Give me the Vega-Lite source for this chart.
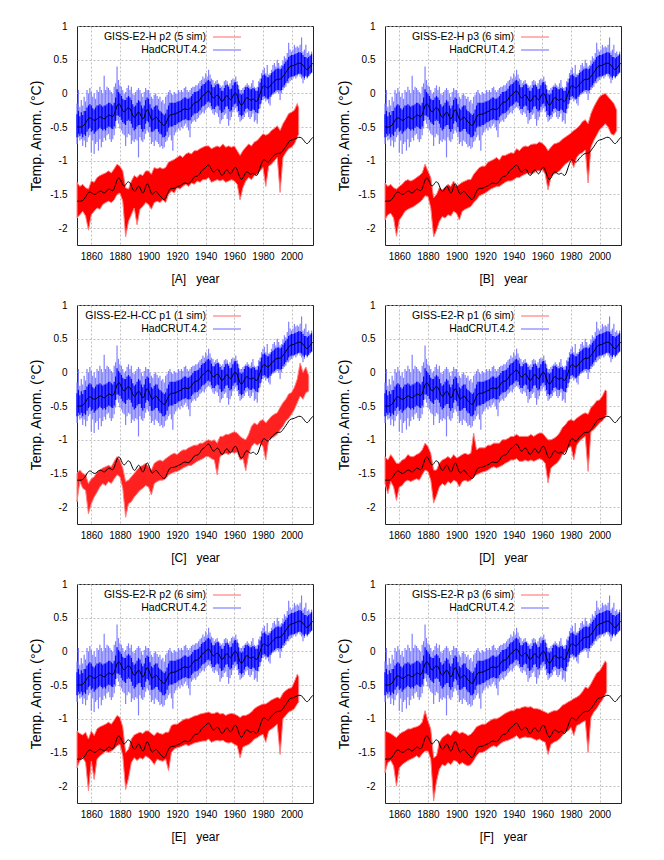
{
"$schema":"https://vega.github.io/schema/vega-lite/v6.json",
"background":"white",
"padding":{"left":29,"top":20,"right":5,"bottom":5},
"columns":2,
"spacing":{"row":60,"column":72},
"bounds":"flush",
"resolve":{"scale":{"stroke":"independent"},"legend":{"stroke":"independent"}},
"config":{
 "view":{"stroke":"#222","strokeWidth":1},
 "font":"Liberation Sans",
 "axis":{"grid":true,"gridColor":"#b0b0b0","gridDash":[2,2],"gridWidth":0.8,"domain":false,"ticks":false,"labelFont":"Liberation Sans","labelFontSize":10,"labelColor":"#000","labelOverlap":false,"labelFlush":false,"titleFont":"Liberation Sans","titleFontWeight":"normal","titleColor":"#000"},
 "axisY":{"titleFontSize":14,"titlePadding":6,"labelPadding":10},
 "axisX":{"titleFontSize":12,"titlePadding":12,"labelPadding":6},
 "legend":{"orient":"none","legendX":144,"legendY":5,"symbolType":"M-2.8,0H2.8","symbolSize":100,"symbolStrokeWidth":1.2,"labelAlign":"right","labelOffset":-27,"labelFontSize":10.5,"labelFont":"Liberation Sans","labelColor":"#000","rowPadding":1,"padding":0}
},
"datasets":{
"sm":[{"t":1850,"a":-0.50,"b":-1.60},{"t":1851,"a":-0.50,"b":-1.60},{"t":1852,"a":-0.50,"b":-1.60},{"t":1853,"a":-0.50,"b":-1.60},{"t":1854,"a":-0.49,"b":-1.59},{"t":1855,"a":-0.47,"b":-1.57},{"t":1856,"a":-0.44,"b":-1.54},{"t":1857,"a":-0.40,"b":-1.50},{"t":1858,"a":-0.37,"b":-1.47},{"t":1859,"a":-0.36,"b":-1.46},{"t":1860,"a":-0.37,"b":-1.47},{"t":1861,"a":-0.39,"b":-1.49},{"t":1862,"a":-0.40,"b":-1.50},{"t":1863,"a":-0.40,"b":-1.50},{"t":1864,"a":-0.38,"b":-1.48},{"t":1865,"a":-0.36,"b":-1.46},{"t":1866,"a":-0.35,"b":-1.45},{"t":1867,"a":-0.35,"b":-1.45},{"t":1868,"a":-0.37,"b":-1.47},{"t":1869,"a":-0.38,"b":-1.48},{"t":1870,"a":-0.37,"b":-1.47},{"t":1871,"a":-0.34,"b":-1.44},{"t":1872,"a":-0.32,"b":-1.42},{"t":1873,"a":-0.32,"b":-1.42},{"t":1874,"a":-0.34,"b":-1.44},{"t":1875,"a":-0.35,"b":-1.45},{"t":1876,"a":-0.32,"b":-1.42},{"t":1877,"a":-0.25,"b":-1.35},{"t":1878,"a":-0.18,"b":-1.28},{"t":1879,"a":-0.15,"b":-1.25},{"t":1880,"a":-0.16,"b":-1.26},{"t":1881,"a":-0.21,"b":-1.31},{"t":1882,"a":-0.26,"b":-1.36},{"t":1883,"a":-0.28,"b":-1.38},{"t":1884,"a":-0.26,"b":-1.36},{"t":1885,"a":-0.22,"b":-1.32},{"t":1886,"a":-0.21,"b":-1.31},{"t":1887,"a":-0.22,"b":-1.32},{"t":1888,"a":-0.27,"b":-1.37},{"t":1889,"a":-0.33,"b":-1.43},{"t":1890,"a":-0.36,"b":-1.46},{"t":1891,"a":-0.35,"b":-1.45},{"t":1892,"a":-0.30,"b":-1.40},{"t":1893,"a":-0.27,"b":-1.37},{"t":1894,"a":-0.29,"b":-1.39},{"t":1895,"a":-0.35,"b":-1.45},{"t":1896,"a":-0.39,"b":-1.49},{"t":1897,"a":-0.36,"b":-1.46},{"t":1898,"a":-0.28,"b":-1.38},{"t":1899,"a":-0.23,"b":-1.33},{"t":1900,"a":-0.26,"b":-1.36},{"t":1901,"a":-0.33,"b":-1.43},{"t":1902,"a":-0.39,"b":-1.49},{"t":1903,"a":-0.40,"b":-1.50},{"t":1904,"a":-0.37,"b":-1.47},{"t":1905,"a":-0.35,"b":-1.45},{"t":1906,"a":-0.36,"b":-1.46},{"t":1907,"a":-0.40,"b":-1.50},{"t":1908,"a":-0.42,"b":-1.52},{"t":1909,"a":-0.44,"b":-1.54},{"t":1910,"a":-0.47,"b":-1.57},{"t":1911,"a":-0.48,"b":-1.58},{"t":1912,"a":-0.46,"b":-1.56},{"t":1913,"a":-0.40,"b":-1.50},{"t":1914,"a":-0.35,"b":-1.45},{"t":1915,"a":-0.32,"b":-1.42},{"t":1916,"a":-0.31,"b":-1.41},{"t":1917,"a":-0.31,"b":-1.41},{"t":1918,"a":-0.31,"b":-1.41},{"t":1919,"a":-0.30,"b":-1.40},{"t":1920,"a":-0.29,"b":-1.39},{"t":1921,"a":-0.28,"b":-1.38},{"t":1922,"a":-0.27,"b":-1.37},{"t":1923,"a":-0.26,"b":-1.36},{"t":1924,"a":-0.24,"b":-1.34},{"t":1925,"a":-0.23,"b":-1.33},{"t":1926,"a":-0.23,"b":-1.33},{"t":1927,"a":-0.24,"b":-1.34},{"t":1928,"a":-0.24,"b":-1.34},{"t":1929,"a":-0.23,"b":-1.33},{"t":1930,"a":-0.20,"b":-1.30},{"t":1931,"a":-0.17,"b":-1.27},{"t":1932,"a":-0.14,"b":-1.24},{"t":1933,"a":-0.13,"b":-1.23},{"t":1934,"a":-0.13,"b":-1.23},{"t":1935,"a":-0.12,"b":-1.22},{"t":1936,"a":-0.09,"b":-1.19},{"t":1937,"a":-0.05,"b":-1.15},{"t":1938,"a":-0.03,"b":-1.13},{"t":1939,"a":-0.02,"b":-1.12},{"t":1940,"a":0.00,"b":-1.10},{"t":1941,"a":0.03,"b":-1.07},{"t":1942,"a":0.04,"b":-1.06},{"t":1943,"a":0.02,"b":-1.08},{"t":1944,"a":-0.03,"b":-1.13},{"t":1945,"a":-0.07,"b":-1.17},{"t":1946,"a":-0.07,"b":-1.17},{"t":1947,"a":-0.04,"b":-1.14},{"t":1948,"a":-0.02,"b":-1.12},{"t":1949,"a":-0.03,"b":-1.13},{"t":1950,"a":-0.08,"b":-1.18},{"t":1951,"a":-0.12,"b":-1.22},{"t":1952,"a":-0.12,"b":-1.22},{"t":1953,"a":-0.08,"b":-1.18},{"t":1954,"a":-0.04,"b":-1.14},{"t":1955,"a":-0.03,"b":-1.13},{"t":1956,"a":-0.06,"b":-1.16},{"t":1957,"a":-0.10,"b":-1.20},{"t":1958,"a":-0.09,"b":-1.19},{"t":1959,"a":-0.04,"b":-1.14},{"t":1960,"a":0.00,"b":-1.10},{"t":1961,"a":0.01,"b":-1.09},{"t":1962,"a":-0.03,"b":-1.13},{"t":1963,"a":-0.10,"b":-1.20},{"t":1964,"a":-0.16,"b":-1.26},{"t":1965,"a":-0.18,"b":-1.28},{"t":1966,"a":-0.16,"b":-1.26},{"t":1967,"a":-0.11,"b":-1.21},{"t":1968,"a":-0.07,"b":-1.17},{"t":1969,"a":-0.06,"b":-1.16},{"t":1970,"a":-0.08,"b":-1.18},{"t":1971,"a":-0.10,"b":-1.20},{"t":1972,"a":-0.10,"b":-1.20},{"t":1973,"a":-0.08,"b":-1.18},{"t":1974,"a":-0.09,"b":-1.19},{"t":1975,"a":-0.12,"b":-1.22},{"t":1976,"a":-0.12,"b":-1.22},{"t":1977,"a":-0.07,"b":-1.17},{"t":1978,"a":0.00,"b":-1.10},{"t":1979,"a":0.06,"b":-1.04},{"t":1980,"a":0.11,"b":-0.99},{"t":1981,"a":0.12,"b":-0.98},{"t":1982,"a":0.10,"b":-1.00},{"t":1983,"a":0.08,"b":-1.02},{"t":1984,"a":0.08,"b":-1.02},{"t":1985,"a":0.11,"b":-0.99},{"t":1986,"a":0.14,"b":-0.96},{"t":1987,"a":0.16,"b":-0.94},{"t":1988,"a":0.18,"b":-0.92},{"t":1989,"a":0.20,"b":-0.90},{"t":1990,"a":0.21,"b":-0.89},{"t":1991,"a":0.21,"b":-0.89},{"t":1992,"a":0.21,"b":-0.89},{"t":1993,"a":0.22,"b":-0.88},{"t":1994,"a":0.25,"b":-0.85},{"t":1995,"a":0.28,"b":-0.82},{"t":1996,"a":0.31,"b":-0.79},{"t":1997,"a":0.34,"b":-0.76},{"t":1998,"a":0.38,"b":-0.72},{"t":1999,"a":0.40,"b":-0.70},{"t":2000,"a":0.41,"b":-0.69},{"t":2001,"a":0.41,"b":-0.69},{"t":2002,"a":0.42,"b":-0.68},{"t":2003,"a":0.43,"b":-0.67},{"t":2004,"a":0.44,"b":-0.66},{"t":2005,"a":0.45,"b":-0.65},{"t":2006,"a":0.45,"b":-0.65},{"t":2007,"a":0.44,"b":-0.66},{"t":2008,"a":0.42,"b":-0.68},{"t":2009,"a":0.39,"b":-0.71},{"t":2010,"a":0.36,"b":-0.74},{"t":2011,"a":0.35,"b":-0.75},{"t":2012,"a":0.37,"b":-0.73},{"t":2013,"a":0.40,"b":-0.70},{"t":2014,"a":0.43,"b":-0.67},{"t":2015,"a":0.45,"b":-0.65}],
"had":[{"t":1850,"l":-0.75,"cl":-0.65,"ch":-0.31,"h":-0.15},{"t":1851,"l":-0.65,"cl":-0.60,"ch":-0.26,"h":0.05},{"t":1852,"l":-0.70,"cl":-0.63,"ch":-0.34,"h":-0.20},{"t":1853,"l":-0.68,"cl":-0.60,"ch":-0.28,"h":-0.10},{"t":1854,"l":-0.78,"cl":-0.65,"ch":-0.32,"h":-0.18},{"t":1855,"l":-0.70,"cl":-0.61,"ch":-0.26,"h":-0.05},{"t":1856,"l":-0.80,"cl":-0.63,"ch":-0.26,"h":-0.12},{"t":1857,"l":-0.72,"cl":-0.57,"ch":-0.21,"h":0.05},{"t":1858,"l":-0.65,"cl":-0.53,"ch":-0.18,"h":0.00},{"t":1859,"l":-0.62,"cl":-0.51,"ch":-0.16,"h":0.08},{"t":1860,"l":-0.88,"cl":-0.57,"ch":-0.18,"h":0.02},{"t":1861,"l":-0.70,"cl":-0.55,"ch":-0.22,"h":-0.05},{"t":1862,"l":-0.90,"cl":-0.60,"ch":-0.24,"h":0.00},{"t":1863,"l":-0.75,"cl":-0.57,"ch":-0.21,"h":-0.08},{"t":1864,"l":-0.72,"cl":-0.55,"ch":-0.18,"h":0.05},{"t":1865,"l":-0.85,"cl":-0.53,"ch":-0.18,"h":0.02},{"t":1866,"l":-0.68,"cl":-0.51,"ch":-0.16,"h":0.10},{"t":1867,"l":-0.80,"cl":-0.53,"ch":-0.18,"h":0.05},{"t":1868,"l":-0.72,"cl":-0.55,"ch":-0.20,"h":0.00},{"t":1869,"l":-0.66,"cl":-0.53,"ch":-0.18,"h":0.26},{"t":1870,"l":-0.70,"cl":-0.55,"ch":-0.18,"h":0.05},{"t":1871,"l":-0.62,"cl":-0.51,"ch":-0.16,"h":0.10},{"t":1872,"l":-0.60,"cl":-0.49,"ch":-0.14,"h":0.08},{"t":1873,"l":-0.68,"cl":-0.50,"ch":-0.14,"h":0.05},{"t":1874,"l":-0.72,"cl":-0.52,"ch":-0.16,"h":0.02},{"t":1875,"l":-0.68,"cl":-0.53,"ch":-0.18,"h":0.00},{"t":1876,"l":-0.62,"cl":-0.49,"ch":-0.14,"h":0.10},{"t":1877,"l":-0.52,"cl":-0.41,"ch":-0.06,"h":0.15},{"t":1878,"l":-0.40,"cl":-0.33,"ch":0.06,"h":0.40},{"t":1879,"l":-0.45,"cl":-0.33,"ch":0.02,"h":0.20},{"t":1880,"l":-0.52,"cl":-0.35,"ch":0.00,"h":0.12},{"t":1881,"l":-0.55,"cl":-0.39,"ch":-0.04,"h":0.10},{"t":1882,"l":-0.60,"cl":-0.43,"ch":-0.08,"h":0.05},{"t":1883,"l":-0.62,"cl":-0.45,"ch":-0.10,"h":0.00},{"t":1884,"l":-0.78,"cl":-0.47,"ch":-0.10,"h":0.02},{"t":1885,"l":-0.65,"cl":-0.41,"ch":-0.06,"h":0.08},{"t":1886,"l":-0.60,"cl":-0.39,"ch":-0.04,"h":0.12},{"t":1887,"l":-0.62,"cl":-0.41,"ch":-0.06,"h":0.05},{"t":1888,"l":-0.75,"cl":-0.45,"ch":-0.10,"h":0.10},{"t":1889,"l":-0.70,"cl":-0.51,"ch":-0.16,"h":0.00},{"t":1890,"l":-0.72,"cl":-0.55,"ch":-0.20,"h":-0.02},{"t":1891,"l":-0.68,"cl":-0.53,"ch":-0.18,"h":0.02},{"t":1892,"l":-0.70,"cl":-0.49,"ch":-0.14,"h":0.05},{"t":1893,"l":-0.95,"cl":-0.47,"ch":-0.10,"h":0.08},{"t":1894,"l":-0.65,"cl":-0.47,"ch":-0.12,"h":0.05},{"t":1895,"l":-0.70,"cl":-0.53,"ch":-0.18,"h":0.00},{"t":1896,"l":-0.72,"cl":-0.57,"ch":-0.22,"h":-0.05},{"t":1897,"l":-0.68,"cl":-0.53,"ch":-0.18,"h":0.02},{"t":1898,"l":-0.60,"cl":-0.45,"ch":-0.10,"h":0.08},{"t":1899,"l":-0.55,"cl":-0.41,"ch":-0.06,"h":0.05},{"t":1900,"l":-0.58,"cl":-0.43,"ch":-0.08,"h":0.05},{"t":1901,"l":-0.65,"cl":-0.50,"ch":-0.16,"h":0.00},{"t":1902,"l":-0.75,"cl":-0.57,"ch":-0.22,"h":-0.05},{"t":1903,"l":-0.72,"cl":-0.57,"ch":-0.24,"h":-0.08},{"t":1904,"l":-0.78,"cl":-0.55,"ch":-0.20,"h":-0.02},{"t":1905,"l":-0.70,"cl":-0.53,"ch":-0.18,"h":0.00},{"t":1906,"l":-0.72,"cl":-0.53,"ch":-0.18,"h":-0.04},{"t":1907,"l":-0.75,"cl":-0.57,"ch":-0.24,"h":-0.08},{"t":1908,"l":-0.80,"cl":-0.60,"ch":-0.26,"h":-0.05},{"t":1909,"l":-0.78,"cl":-0.61,"ch":-0.28,"h":-0.12},{"t":1910,"l":-0.82,"cl":-0.65,"ch":-0.30,"h":-0.10},{"t":1911,"l":-0.80,"cl":-0.65,"ch":-0.32,"h":-0.15},{"t":1912,"l":-0.72,"cl":-0.63,"ch":-0.30,"h":-0.05},{"t":1913,"l":-0.70,"cl":-0.57,"ch":-0.24,"h":-0.02},{"t":1914,"l":-0.65,"cl":-0.51,"ch":-0.18,"h":0.02},{"t":1915,"l":-0.62,"cl":-0.49,"ch":-0.14,"h":0.05},{"t":1916,"l":-0.70,"cl":-0.49,"ch":-0.14,"h":0.00},{"t":1917,"l":-0.85,"cl":-0.49,"ch":-0.14,"h":-0.02},{"t":1918,"l":-0.62,"cl":-0.47,"ch":-0.14,"h":0.02},{"t":1919,"l":-0.58,"cl":-0.47,"ch":-0.14,"h":0.00},{"t":1920,"l":-0.55,"cl":-0.45,"ch":-0.12,"h":0.00},{"t":1921,"l":-0.52,"cl":-0.43,"ch":-0.12,"h":0.05},{"t":1922,"l":-0.55,"cl":-0.43,"ch":-0.11,"h":0.02},{"t":1923,"l":-0.50,"cl":-0.41,"ch":-0.10,"h":0.05},{"t":1924,"l":-0.52,"cl":-0.40,"ch":-0.08,"h":0.02},{"t":1925,"l":-0.48,"cl":-0.39,"ch":-0.06,"h":0.08},{"t":1926,"l":-0.45,"cl":-0.38,"ch":-0.06,"h":0.10},{"t":1927,"l":-0.50,"cl":-0.40,"ch":-0.08,"h":0.05},{"t":1928,"l":-0.55,"cl":-0.40,"ch":-0.08,"h":0.02},{"t":1929,"l":-0.65,"cl":-0.40,"ch":-0.06,"h":0.05},{"t":1930,"l":-0.45,"cl":-0.35,"ch":-0.04,"h":0.08},{"t":1931,"l":-0.42,"cl":-0.33,"ch":-0.01,"h":0.10},{"t":1932,"l":-0.40,"cl":-0.30,"ch":0.02,"h":0.10},{"t":1933,"l":-0.42,"cl":-0.30,"ch":0.02,"h":0.12},{"t":1934,"l":-0.38,"cl":-0.29,"ch":0.03,"h":0.12},{"t":1935,"l":-0.36,"cl":-0.27,"ch":0.04,"h":0.15},{"t":1936,"l":-0.32,"cl":-0.25,"ch":0.07,"h":0.18},{"t":1937,"l":-0.30,"cl":-0.21,"ch":0.11,"h":0.20},{"t":1938,"l":-0.28,"cl":-0.19,"ch":0.13,"h":0.25},{"t":1939,"l":-0.30,"cl":-0.18,"ch":0.14,"h":0.22},{"t":1940,"l":-0.25,"cl":-0.16,"ch":0.16,"h":0.30},{"t":1941,"l":-0.22,"cl":-0.13,"ch":0.19,"h":0.25},{"t":1942,"l":-0.20,"cl":-0.12,"ch":0.20,"h":0.35},{"t":1943,"l":-0.22,"cl":-0.14,"ch":0.18,"h":0.28},{"t":1944,"l":-0.25,"cl":-0.19,"ch":0.13,"h":0.22},{"t":1945,"l":-0.30,"cl":-0.23,"ch":0.09,"h":0.20},{"t":1946,"l":-0.32,"cl":-0.23,"ch":0.09,"h":0.15},{"t":1947,"l":-0.28,"cl":-0.20,"ch":0.12,"h":0.18},{"t":1948,"l":-0.30,"cl":-0.18,"ch":0.14,"h":0.20},{"t":1949,"l":-0.35,"cl":-0.19,"ch":0.13,"h":0.15},{"t":1950,"l":-0.45,"cl":-0.25,"ch":0.08,"h":0.12},{"t":1951,"l":-0.40,"cl":-0.29,"ch":0.04,"h":0.10},{"t":1952,"l":-0.38,"cl":-0.28,"ch":0.04,"h":0.12},{"t":1953,"l":-0.32,"cl":-0.24,"ch":0.08,"h":0.18},{"t":1954,"l":-0.30,"cl":-0.20,"ch":0.12,"h":0.20},{"t":1955,"l":-0.38,"cl":-0.19,"ch":0.13,"h":0.18},{"t":1956,"l":-0.48,"cl":-0.23,"ch":0.10,"h":0.12},{"t":1957,"l":-0.40,"cl":-0.27,"ch":0.06,"h":0.15},{"t":1958,"l":-0.35,"cl":-0.25,"ch":0.07,"h":0.20},{"t":1959,"l":-0.28,"cl":-0.20,"ch":0.12,"h":0.22},{"t":1960,"l":-0.25,"cl":-0.16,"ch":0.16,"h":0.20},{"t":1961,"l":-0.22,"cl":-0.15,"ch":0.17,"h":0.25},{"t":1962,"l":-0.28,"cl":-0.19,"ch":0.13,"h":0.18},{"t":1963,"l":-0.35,"cl":-0.26,"ch":0.06,"h":0.12},{"t":1964,"l":-0.42,"cl":-0.32,"ch":0.00,"h":0.05},{"t":1965,"l":-0.40,"cl":-0.34,"ch":-0.02,"h":0.05},{"t":1966,"l":-0.38,"cl":-0.32,"ch":0.00,"h":0.08},{"t":1967,"l":-0.35,"cl":-0.27,"ch":0.05,"h":0.10},{"t":1968,"l":-0.30,"cl":-0.23,"ch":0.09,"h":0.12},{"t":1969,"l":-0.28,"cl":-0.22,"ch":0.10,"h":0.15},{"t":1970,"l":-0.35,"cl":-0.24,"ch":0.08,"h":0.12},{"t":1971,"l":-0.38,"cl":-0.26,"ch":0.06,"h":0.10},{"t":1972,"l":-0.35,"cl":-0.26,"ch":0.06,"h":0.15},{"t":1973,"l":-0.30,"cl":-0.24,"ch":0.08,"h":0.20},{"t":1974,"l":-0.42,"cl":-0.25,"ch":0.07,"h":0.10},{"t":1975,"l":-0.40,"cl":-0.28,"ch":0.04,"h":0.08},{"t":1976,"l":-0.45,"cl":-0.29,"ch":0.04,"h":0.10},{"t":1977,"l":-0.30,"cl":-0.23,"ch":0.09,"h":0.18},{"t":1978,"l":-0.22,"cl":-0.16,"ch":0.16,"h":0.22},{"t":1979,"l":-0.15,"cl":-0.10,"ch":0.22,"h":0.30},{"t":1980,"l":-0.10,"cl":-0.05,"ch":0.27,"h":0.35},{"t":1981,"l":-0.08,"cl":-0.04,"ch":0.28,"h":0.38},{"t":1982,"l":-0.12,"cl":-0.06,"ch":0.26,"h":0.30},{"t":1983,"l":-0.10,"cl":-0.08,"ch":0.24,"h":0.42},{"t":1984,"l":-0.15,"cl":-0.08,"ch":0.24,"h":0.28},{"t":1985,"l":-0.18,"cl":-0.05,"ch":0.27,"h":0.30},{"t":1986,"l":-0.05,"cl":-0.02,"ch":0.30,"h":0.35},{"t":1987,"l":-0.02,"cl":0.00,"ch":0.32,"h":0.42},{"t":1988,"l":0.00,"cl":0.02,"ch":0.34,"h":0.45},{"t":1989,"l":0.00,"cl":0.04,"ch":0.36,"h":0.40},{"t":1990,"l":0.02,"cl":0.05,"ch":0.37,"h":0.50},{"t":1991,"l":0.00,"cl":0.05,"ch":0.37,"h":0.45},{"t":1992,"l":-0.10,"cl":0.04,"ch":0.36,"h":0.40},{"t":1993,"l":0.00,"cl":0.05,"ch":0.37,"h":0.42},{"t":1994,"l":0.05,"cl":0.09,"ch":0.41,"h":0.48},{"t":1995,"l":0.08,"cl":0.12,"ch":0.44,"h":0.55},{"t":1996,"l":0.10,"cl":0.15,"ch":0.47,"h":0.52},{"t":1997,"l":0.15,"cl":0.18,"ch":0.50,"h":0.60},{"t":1998,"l":0.15,"cl":0.22,"ch":0.54,"h":0.75},{"t":1999,"l":0.18,"cl":0.24,"ch":0.56,"h":0.65},{"t":2000,"l":0.20,"cl":0.25,"ch":0.57,"h":0.62},{"t":2001,"l":0.22,"cl":0.25,"ch":0.57,"h":0.65},{"t":2002,"l":0.25,"cl":0.26,"ch":0.58,"h":0.72},{"t":2003,"l":0.22,"cl":0.27,"ch":0.59,"h":0.68},{"t":2004,"l":0.25,"cl":0.28,"ch":0.60,"h":0.70},{"t":2005,"l":0.28,"cl":0.29,"ch":0.61,"h":0.68},{"t":2006,"l":0.25,"cl":0.29,"ch":0.61,"h":0.72},{"t":2007,"l":0.22,"cl":0.28,"ch":0.60,"h":0.83},{"t":2008,"l":0.15,"cl":0.25,"ch":0.57,"h":0.62},{"t":2009,"l":0.20,"cl":0.23,"ch":0.54,"h":0.65},{"t":2010,"l":0.25,"cl":0.26,"ch":0.54,"h":0.72},{"t":2011,"l":0.22,"cl":0.24,"ch":0.52,"h":0.60},{"t":2012,"l":0.25,"cl":0.26,"ch":0.54,"h":0.62},{"t":2013,"l":0.28,"cl":0.29,"ch":0.56,"h":0.58},{"t":2014,"l":0.30,"cl":0.31,"ch":0.58,"h":0.62}],
"rA":[{"t":1850,"l":-1.85,"h":-1.32},{"t":1852,"l":-1.80,"h":-1.38},{"t":1854,"l":-1.75,"h":-1.35},{"t":1856,"l":-1.82,"h":-1.40},{"t":1858,"l":-2.03,"h":-1.42},{"t":1860,"l":-1.80,"h":-1.30},{"t":1862,"l":-1.75,"h":-1.32},{"t":1864,"l":-1.70,"h":-1.25},{"t":1866,"l":-1.72,"h":-1.22},{"t":1868,"l":-1.65,"h":-1.20},{"t":1870,"l":-1.62,"h":-1.18},{"t":1872,"l":-1.60,"h":-1.15},{"t":1874,"l":-1.62,"h":-1.18},{"t":1876,"l":-1.58,"h":-1.12},{"t":1878,"l":-1.50,"h":-1.05},{"t":1880,"l":-1.48,"h":-1.08},{"t":1882,"l":-1.60,"h":-1.15},{"t":1884,"l":-2.13,"h":-1.40},{"t":1886,"l":-1.90,"h":-1.42},{"t":1888,"l":-1.80,"h":-1.30},{"t":1890,"l":-1.70,"h":-1.22},{"t":1892,"l":-1.95,"h":-1.25},{"t":1894,"l":-1.72,"h":-1.20},{"t":1896,"l":-1.68,"h":-1.22},{"t":1898,"l":-1.62,"h":-1.15},{"t":1900,"l":-1.65,"h":-1.15},{"t":1902,"l":-1.72,"h":-1.20},{"t":1904,"l":-1.62,"h":-1.10},{"t":1906,"l":-1.60,"h":-1.12},{"t":1908,"l":-1.62,"h":-1.10},{"t":1910,"l":-1.58,"h":-1.12},{"t":1912,"l":-1.62,"h":-1.10},{"t":1914,"l":-1.50,"h":-1.02},{"t":1916,"l":-1.45,"h":-1.00},{"t":1918,"l":-1.48,"h":-0.98},{"t":1920,"l":-1.40,"h":-0.95},{"t":1922,"l":-1.42,"h":-0.92},{"t":1924,"l":-1.38,"h":-0.95},{"t":1926,"l":-1.35,"h":-0.90},{"t":1928,"l":-1.38,"h":-0.88},{"t":1930,"l":-1.33,"h":-0.90},{"t":1932,"l":-1.35,"h":-0.85},{"t":1934,"l":-1.30,"h":-0.85},{"t":1936,"l":-1.32,"h":-0.82},{"t":1938,"l":-1.28,"h":-0.80},{"t":1940,"l":-1.28,"h":-0.78},{"t":1942,"l":-1.25,"h":-0.78},{"t":1944,"l":-1.32,"h":-0.82},{"t":1946,"l":-1.30,"h":-0.80},{"t":1948,"l":-1.28,"h":-0.78},{"t":1950,"l":-1.30,"h":-0.80},{"t":1952,"l":-1.28,"h":-0.75},{"t":1954,"l":-1.32,"h":-0.80},{"t":1956,"l":-1.30,"h":-0.78},{"t":1958,"l":-1.28,"h":-0.80},{"t":1960,"l":-1.30,"h":-0.78},{"t":1962,"l":-1.35,"h":-0.85},{"t":1964,"l":-1.58,"h":-0.92},{"t":1966,"l":-1.40,"h":-0.85},{"t":1968,"l":-1.30,"h":-0.80},{"t":1970,"l":-1.25,"h":-0.75},{"t":1972,"l":-1.28,"h":-0.78},{"t":1974,"l":-1.22,"h":-0.72},{"t":1976,"l":-1.20,"h":-0.70},{"t":1978,"l":-1.15,"h":-0.65},{"t":1980,"l":-1.10,"h":-0.60},{"t":1982,"l":-1.38,"h":-0.62},{"t":1984,"l":-1.08,"h":-0.60},{"t":1986,"l":-1.05,"h":-0.55},{"t":1988,"l":-1.00,"h":-0.52},{"t":1990,"l":-0.95,"h":-0.48},{"t":1992,"l":-1.47,"h":-0.55},{"t":1994,"l":-0.95,"h":-0.45},{"t":1996,"l":-0.88,"h":-0.38},{"t":1998,"l":-0.82,"h":-0.30},{"t":2000,"l":-0.80,"h":-0.28},{"t":2002,"l":-0.75,"h":-0.25},{"t":2004,"l":-0.65,"h":-0.15},{"t":2005,"l":-0.60,"h":-0.22}],
"rB":[{"t":1850,"l":-1.88,"h":-1.33},{"t":1852,"l":-1.80,"h":-1.38},{"t":1854,"l":-1.78,"h":-1.35},{"t":1856,"l":-1.85,"h":-1.40},{"t":1858,"l":-2.12,"h":-1.42},{"t":1860,"l":-1.88,"h":-1.38},{"t":1862,"l":-1.82,"h":-1.35},{"t":1864,"l":-1.75,"h":-1.30},{"t":1866,"l":-1.72,"h":-1.28},{"t":1868,"l":-1.70,"h":-1.30},{"t":1870,"l":-1.68,"h":-1.28},{"t":1872,"l":-1.65,"h":-1.25},{"t":1874,"l":-1.62,"h":-1.22},{"t":1876,"l":-1.58,"h":-1.18},{"t":1878,"l":-1.52,"h":-1.05},{"t":1880,"l":-1.53,"h":-1.15},{"t":1882,"l":-1.70,"h":-1.25},{"t":1884,"l":-2.13,"h":-1.55},{"t":1886,"l":-2.03,"h":-1.50},{"t":1888,"l":-1.90,"h":-1.40},{"t":1890,"l":-1.83,"h":-1.43},{"t":1892,"l":-1.85,"h":-1.40},{"t":1894,"l":-1.80,"h":-1.35},{"t":1896,"l":-1.82,"h":-1.38},{"t":1898,"l":-1.75,"h":-1.30},{"t":1900,"l":-1.78,"h":-1.38},{"t":1902,"l":-1.88,"h":-1.35},{"t":1904,"l":-1.75,"h":-1.32},{"t":1906,"l":-1.72,"h":-1.30},{"t":1908,"l":-1.70,"h":-1.28},{"t":1910,"l":-1.68,"h":-1.28},{"t":1912,"l":-1.62,"h":-1.20},{"t":1914,"l":-1.58,"h":-1.15},{"t":1916,"l":-1.52,"h":-1.10},{"t":1918,"l":-1.50,"h":-1.08},{"t":1920,"l":-1.48,"h":-1.08},{"t":1922,"l":-1.45,"h":-1.02},{"t":1924,"l":-1.42,"h":-1.00},{"t":1926,"l":-1.40,"h":-0.98},{"t":1928,"l":-1.38,"h":-0.95},{"t":1930,"l":-1.38,"h":-0.99},{"t":1932,"l":-1.35,"h":-0.92},{"t":1934,"l":-1.32,"h":-0.92},{"t":1936,"l":-1.30,"h":-0.90},{"t":1938,"l":-1.30,"h":-0.88},{"t":1940,"l":-1.28,"h":-0.89},{"t":1942,"l":-1.25,"h":-0.82},{"t":1944,"l":-1.25,"h":-0.85},{"t":1946,"l":-1.22,"h":-0.80},{"t":1948,"l":-1.20,"h":-0.78},{"t":1950,"l":-1.18,"h":-0.79},{"t":1952,"l":-1.20,"h":-0.76},{"t":1954,"l":-1.18,"h":-0.75},{"t":1956,"l":-1.15,"h":-0.75},{"t":1958,"l":-1.15,"h":-0.72},{"t":1960,"l":-1.13,"h":-0.74},{"t":1962,"l":-1.20,"h":-0.78},{"t":1964,"l":-1.43,"h":-0.85},{"t":1966,"l":-1.25,"h":-0.80},{"t":1968,"l":-1.20,"h":-0.75},{"t":1970,"l":-1.18,"h":-0.74},{"t":1972,"l":-1.15,"h":-0.72},{"t":1974,"l":-1.10,"h":-0.68},{"t":1976,"l":-1.05,"h":-0.65},{"t":1978,"l":-1.02,"h":-0.62},{"t":1980,"l":-0.99,"h":-0.59},{"t":1982,"l":-1.10,"h":-0.55},{"t":1984,"l":-0.95,"h":-0.52},{"t":1986,"l":-0.90,"h":-0.48},{"t":1988,"l":-0.88,"h":-0.42},{"t":1990,"l":-0.84,"h":-0.39},{"t":1992,"l":-1.33,"h":-0.45},{"t":1994,"l":-0.80,"h":-0.30},{"t":1996,"l":-0.70,"h":-0.20},{"t":1998,"l":-0.62,"h":-0.12},{"t":2000,"l":-0.54,"h":-0.05},{"t":2002,"l":-0.50,"h":-0.02},{"t":2004,"l":-0.45,"h":0.00},{"t":2006,"l":-0.50,"h":-0.05},{"t":2008,"l":-0.60,"h":-0.10},{"t":2010,"l":-0.62,"h":-0.15},{"t":2012,"l":-0.55,"h":-0.25}],
"rC":[{"t":1850,"l":-1.92,"h":-1.50},{"t":1852,"l":-1.62,"h":-1.45},{"t":1854,"l":-1.72,"h":-1.50},{"t":1856,"l":-1.75,"h":-1.52},{"t":1858,"l":-2.10,"h":-1.65},{"t":1860,"l":-1.95,"h":-1.58},{"t":1862,"l":-1.85,"h":-1.55},{"t":1864,"l":-1.78,"h":-1.48},{"t":1866,"l":-1.70,"h":-1.45},{"t":1868,"l":-1.65,"h":-1.42},{"t":1870,"l":-1.68,"h":-1.40},{"t":1872,"l":-1.62,"h":-1.38},{"t":1874,"l":-1.65,"h":-1.40},{"t":1876,"l":-1.58,"h":-1.32},{"t":1878,"l":-1.52,"h":-1.25},{"t":1880,"l":-1.55,"h":-1.30},{"t":1882,"l":-1.72,"h":-1.42},{"t":1884,"l":-2.15,"h":-1.62},{"t":1886,"l":-1.95,"h":-1.60},{"t":1888,"l":-1.92,"h":-1.55},{"t":1890,"l":-1.85,"h":-1.50},{"t":1892,"l":-1.80,"h":-1.45},{"t":1894,"l":-1.75,"h":-1.40},{"t":1896,"l":-1.72,"h":-1.38},{"t":1898,"l":-1.68,"h":-1.35},{"t":1900,"l":-1.70,"h":-1.40},{"t":1902,"l":-1.82,"h":-1.45},{"t":1904,"l":-1.65,"h":-1.35},{"t":1906,"l":-1.62,"h":-1.32},{"t":1908,"l":-1.60,"h":-1.30},{"t":1910,"l":-1.60,"h":-1.32},{"t":1912,"l":-1.58,"h":-1.28},{"t":1914,"l":-1.52,"h":-1.25},{"t":1916,"l":-1.50,"h":-1.22},{"t":1918,"l":-1.48,"h":-1.20},{"t":1920,"l":-1.47,"h":-1.22},{"t":1922,"l":-1.45,"h":-1.18},{"t":1924,"l":-1.42,"h":-1.15},{"t":1926,"l":-1.40,"h":-1.15},{"t":1928,"l":-1.38,"h":-1.12},{"t":1930,"l":-1.38,"h":-1.10},{"t":1932,"l":-1.35,"h":-1.08},{"t":1934,"l":-1.32,"h":-1.08},{"t":1936,"l":-1.30,"h":-1.05},{"t":1938,"l":-1.28,"h":-1.05},{"t":1940,"l":-1.25,"h":-1.02},{"t":1942,"l":-1.25,"h":-1.00},{"t":1944,"l":-1.28,"h":-1.02},{"t":1946,"l":-1.30,"h":-1.00},{"t":1948,"l":-1.52,"h":-1.05},{"t":1950,"l":-1.25,"h":-0.95},{"t":1952,"l":-1.22,"h":-0.95},{"t":1954,"l":-1.20,"h":-0.92},{"t":1956,"l":-1.22,"h":-0.92},{"t":1958,"l":-1.18,"h":-0.90},{"t":1960,"l":-1.20,"h":-0.88},{"t":1962,"l":-1.18,"h":-0.90},{"t":1964,"l":-1.30,"h":-0.95},{"t":1966,"l":-1.28,"h":-0.98},{"t":1968,"l":-1.46,"h":-1.00},{"t":1970,"l":-1.22,"h":-0.92},{"t":1972,"l":-1.10,"h":-0.80},{"t":1974,"l":-1.05,"h":-0.75},{"t":1976,"l":-1.08,"h":-0.78},{"t":1978,"l":-1.05,"h":-0.72},{"t":1980,"l":-1.10,"h":-0.70},{"t":1982,"l":-1.30,"h":-0.75},{"t":1984,"l":-1.00,"h":-0.70},{"t":1986,"l":-0.98,"h":-0.65},{"t":1988,"l":-0.95,"h":-0.62},{"t":1990,"l":-0.92,"h":-0.60},{"t":1992,"l":-0.85,"h":-0.52},{"t":1994,"l":-0.80,"h":-0.45},{"t":1996,"l":-0.72,"h":-0.40},{"t":1998,"l":-0.68,"h":-0.32},{"t":2000,"l":-0.62,"h":-0.30},{"t":2002,"l":-0.55,"h":-0.22},{"t":2004,"l":-0.45,"h":-0.10},{"t":2006,"l":-0.35,"h":0.14},{"t":2008,"l":-0.40,"h":0.00},{"t":2010,"l":-0.30,"h":0.08},{"t":2012,"l":-0.28,"h":-0.05}],
"rD":[{"t":1850,"l":-1.65,"h":-1.25},{"t":1852,"l":-1.80,"h":-1.30},{"t":1854,"l":-1.62,"h":-1.22},{"t":1856,"l":-1.70,"h":-1.28},{"t":1858,"l":-1.90,"h":-1.35},{"t":1860,"l":-1.70,"h":-1.35},{"t":1862,"l":-1.68,"h":-1.30},{"t":1864,"l":-1.62,"h":-1.28},{"t":1866,"l":-1.60,"h":-1.22},{"t":1868,"l":-1.62,"h":-1.25},{"t":1870,"l":-1.60,"h":-1.25},{"t":1872,"l":-1.58,"h":-1.22},{"t":1874,"l":-1.60,"h":-1.20},{"t":1876,"l":-1.52,"h":-1.15},{"t":1878,"l":-1.45,"h":-1.05},{"t":1880,"l":-1.47,"h":-1.10},{"t":1882,"l":-1.60,"h":-1.20},{"t":1884,"l":-1.94,"h":-1.45},{"t":1886,"l":-1.83,"h":-1.45},{"t":1888,"l":-1.70,"h":-1.35},{"t":1890,"l":-1.65,"h":-1.30},{"t":1892,"l":-1.68,"h":-1.28},{"t":1894,"l":-1.62,"h":-1.25},{"t":1896,"l":-1.65,"h":-1.28},{"t":1898,"l":-1.60,"h":-1.22},{"t":1900,"l":-1.62,"h":-1.27},{"t":1902,"l":-1.70,"h":-1.25},{"t":1904,"l":-1.62,"h":-1.22},{"t":1906,"l":-1.60,"h":-1.20},{"t":1908,"l":-1.62,"h":-1.22},{"t":1910,"l":-1.60,"h":-1.20},{"t":1912,"l":-1.55,"h":-0.90},{"t":1914,"l":-1.52,"h":-1.15},{"t":1916,"l":-1.50,"h":-1.12},{"t":1918,"l":-1.48,"h":-1.12},{"t":1920,"l":-1.47,"h":-1.12},{"t":1922,"l":-1.45,"h":-1.08},{"t":1924,"l":-1.42,"h":-1.08},{"t":1926,"l":-1.40,"h":-1.05},{"t":1928,"l":-1.42,"h":-1.05},{"t":1930,"l":-1.40,"h":-1.05},{"t":1932,"l":-1.38,"h":-1.00},{"t":1934,"l":-1.35,"h":-1.00},{"t":1936,"l":-1.33,"h":-0.98},{"t":1938,"l":-1.30,"h":-0.95},{"t":1940,"l":-1.30,"h":-0.95},{"t":1942,"l":-1.28,"h":-0.92},{"t":1944,"l":-1.32,"h":-0.95},{"t":1946,"l":-1.32,"h":-0.95},{"t":1948,"l":-1.30,"h":-0.95},{"t":1950,"l":-1.32,"h":-0.95},{"t":1952,"l":-1.30,"h":-0.92},{"t":1954,"l":-1.32,"h":-0.95},{"t":1956,"l":-1.30,"h":-0.92},{"t":1958,"l":-1.28,"h":-0.90},{"t":1960,"l":-1.30,"h":-0.90},{"t":1962,"l":-1.35,"h":-0.95},{"t":1964,"l":-1.64,"h":-1.00},{"t":1966,"l":-1.42,"h":-1.00},{"t":1968,"l":-1.38,"h":-0.98},{"t":1970,"l":-1.35,"h":-0.95},{"t":1972,"l":-1.30,"h":-0.90},{"t":1974,"l":-1.22,"h":-0.82},{"t":1976,"l":-1.18,"h":-0.78},{"t":1978,"l":-1.12,"h":-0.72},{"t":1980,"l":-1.10,"h":-0.70},{"t":1982,"l":-1.30,"h":-0.72},{"t":1984,"l":-1.08,"h":-0.68},{"t":1986,"l":-1.02,"h":-0.65},{"t":1988,"l":-0.98,"h":-0.62},{"t":1990,"l":-0.95,"h":-0.60},{"t":1992,"l":-1.47,"h":-0.62},{"t":1994,"l":-0.88,"h":-0.52},{"t":1996,"l":-0.85,"h":-0.48},{"t":1998,"l":-0.80,"h":-0.42},{"t":2000,"l":-0.75,"h":-0.41},{"t":2002,"l":-0.72,"h":-0.35},{"t":2004,"l":-0.66,"h":-0.26},{"t":2005,"l":-0.62,"h":-0.28}],
"rE":[{"t":1850,"l":-1.73,"h":-1.18},{"t":1852,"l":-1.62,"h":-1.22},{"t":1854,"l":-1.58,"h":-1.24},{"t":1856,"l":-1.65,"h":-1.20},{"t":1858,"l":-2.07,"h":-1.30},{"t":1860,"l":-1.63,"h":-1.18},{"t":1862,"l":-1.90,"h":-1.25},{"t":1864,"l":-1.60,"h":-1.15},{"t":1866,"l":-1.55,"h":-1.12},{"t":1868,"l":-1.52,"h":-1.10},{"t":1870,"l":-1.48,"h":-1.08},{"t":1872,"l":-1.50,"h":-1.05},{"t":1874,"l":-1.48,"h":-1.08},{"t":1876,"l":-1.45,"h":-1.02},{"t":1878,"l":-1.40,"h":-0.95},{"t":1880,"l":-1.38,"h":-0.98},{"t":1882,"l":-1.55,"h":-1.12},{"t":1884,"l":-2.05,"h":-1.50},{"t":1886,"l":-1.88,"h":-1.45},{"t":1888,"l":-1.65,"h":-1.30},{"t":1890,"l":-1.58,"h":-1.24},{"t":1892,"l":-1.62,"h":-1.22},{"t":1894,"l":-1.58,"h":-1.20},{"t":1896,"l":-1.60,"h":-1.22},{"t":1898,"l":-1.55,"h":-1.18},{"t":1900,"l":-1.58,"h":-1.18},{"t":1902,"l":-1.62,"h":-1.22},{"t":1904,"l":-1.68,"h":-1.25},{"t":1906,"l":-1.60,"h":-1.20},{"t":1908,"l":-1.62,"h":-1.22},{"t":1910,"l":-1.63,"h":-1.23},{"t":1912,"l":-1.60,"h":-1.20},{"t":1914,"l":-1.77,"h":-1.20},{"t":1916,"l":-1.50,"h":-1.10},{"t":1918,"l":-1.45,"h":-1.08},{"t":1920,"l":-1.43,"h":-1.08},{"t":1922,"l":-1.42,"h":-1.05},{"t":1924,"l":-1.40,"h":-1.02},{"t":1926,"l":-1.38,"h":-1.00},{"t":1928,"l":-1.40,"h":-1.00},{"t":1930,"l":-1.38,"h":-0.98},{"t":1932,"l":-1.36,"h":-0.96},{"t":1934,"l":-1.35,"h":-0.95},{"t":1936,"l":-1.34,"h":-0.93},{"t":1938,"l":-1.33,"h":-0.92},{"t":1940,"l":-1.33,"h":-0.91},{"t":1942,"l":-1.30,"h":-0.90},{"t":1944,"l":-1.35,"h":-0.92},{"t":1946,"l":-1.33,"h":-0.92},{"t":1948,"l":-1.32,"h":-0.90},{"t":1950,"l":-1.33,"h":-0.93},{"t":1952,"l":-1.32,"h":-0.92},{"t":1954,"l":-1.35,"h":-0.95},{"t":1956,"l":-1.36,"h":-0.93},{"t":1958,"l":-1.35,"h":-0.92},{"t":1960,"l":-1.38,"h":-0.93},{"t":1962,"l":-1.40,"h":-0.95},{"t":1964,"l":-1.58,"h":-0.98},{"t":1966,"l":-1.42,"h":-0.95},{"t":1968,"l":-1.40,"h":-0.95},{"t":1970,"l":-1.38,"h":-0.93},{"t":1972,"l":-1.35,"h":-0.90},{"t":1974,"l":-1.30,"h":-0.85},{"t":1976,"l":-1.28,"h":-0.82},{"t":1978,"l":-1.25,"h":-0.80},{"t":1980,"l":-1.23,"h":-0.78},{"t":1982,"l":-1.35,"h":-0.78},{"t":1984,"l":-1.18,"h":-0.75},{"t":1986,"l":-1.15,"h":-0.72},{"t":1988,"l":-1.12,"h":-0.70},{"t":1990,"l":-1.08,"h":-0.68},{"t":1992,"l":-1.53,"h":-0.70},{"t":1994,"l":-1.00,"h":-0.62},{"t":1996,"l":-0.95,"h":-0.58},{"t":1998,"l":-0.90,"h":-0.55},{"t":2000,"l":-0.88,"h":-0.54},{"t":2002,"l":-0.85,"h":-0.45},{"t":2004,"l":-0.78,"h":-0.34},{"t":2005,"l":-0.75,"h":-0.38}],
"rF":[{"t":1850,"l":-1.80,"h":-1.18},{"t":1852,"l":-1.65,"h":-1.20},{"t":1854,"l":-1.62,"h":-1.22},{"t":1856,"l":-1.70,"h":-1.25},{"t":1858,"l":-2.00,"h":-1.28},{"t":1860,"l":-1.73,"h":-1.23},{"t":1862,"l":-1.68,"h":-1.20},{"t":1864,"l":-1.65,"h":-1.18},{"t":1866,"l":-1.62,"h":-1.15},{"t":1868,"l":-1.60,"h":-1.15},{"t":1870,"l":-1.58,"h":-1.13},{"t":1872,"l":-1.55,"h":-1.12},{"t":1874,"l":-1.58,"h":-1.10},{"t":1876,"l":-1.52,"h":-1.05},{"t":1878,"l":-1.48,"h":-0.88},{"t":1880,"l":-1.48,"h":-1.03},{"t":1882,"l":-1.60,"h":-1.15},{"t":1884,"l":-2.22,"h":-1.58},{"t":1886,"l":-1.93,"h":-1.55},{"t":1888,"l":-1.75,"h":-1.35},{"t":1890,"l":-1.68,"h":-1.28},{"t":1892,"l":-1.70,"h":-1.25},{"t":1894,"l":-1.65,"h":-1.22},{"t":1896,"l":-1.68,"h":-1.25},{"t":1898,"l":-1.62,"h":-1.18},{"t":1900,"l":-1.63,"h":-1.18},{"t":1902,"l":-1.68,"h":-1.22},{"t":1904,"l":-1.65,"h":-1.20},{"t":1906,"l":-1.68,"h":-1.22},{"t":1908,"l":-1.70,"h":-1.25},{"t":1910,"l":-1.68,"h":-1.23},{"t":1912,"l":-1.62,"h":-1.18},{"t":1914,"l":-1.55,"h":-1.12},{"t":1916,"l":-1.50,"h":-1.10},{"t":1918,"l":-1.50,"h":-1.08},{"t":1920,"l":-1.48,"h":-1.08},{"t":1922,"l":-1.45,"h":-1.05},{"t":1924,"l":-1.42,"h":-1.02},{"t":1926,"l":-1.40,"h":-1.00},{"t":1928,"l":-1.42,"h":-1.00},{"t":1930,"l":-1.38,"h":-0.98},{"t":1932,"l":-1.35,"h":-0.95},{"t":1934,"l":-1.33,"h":-0.92},{"t":1936,"l":-1.32,"h":-0.90},{"t":1938,"l":-1.30,"h":-0.88},{"t":1940,"l":-1.28,"h":-0.88},{"t":1942,"l":-1.25,"h":-0.85},{"t":1944,"l":-1.30,"h":-0.85},{"t":1946,"l":-1.28,"h":-0.83},{"t":1948,"l":-1.27,"h":-0.82},{"t":1950,"l":-1.28,"h":-0.83},{"t":1952,"l":-1.28,"h":-0.82},{"t":1954,"l":-1.30,"h":-0.85},{"t":1956,"l":-1.32,"h":-0.85},{"t":1958,"l":-1.30,"h":-0.86},{"t":1960,"l":-1.33,"h":-0.88},{"t":1962,"l":-1.35,"h":-0.90},{"t":1964,"l":-1.53,"h":-0.92},{"t":1966,"l":-1.38,"h":-0.90},{"t":1968,"l":-1.35,"h":-0.88},{"t":1970,"l":-1.33,"h":-0.88},{"t":1972,"l":-1.30,"h":-0.85},{"t":1974,"l":-1.25,"h":-0.80},{"t":1976,"l":-1.20,"h":-0.78},{"t":1978,"l":-1.18,"h":-0.75},{"t":1980,"l":-1.13,"h":-0.73},{"t":1982,"l":-1.25,"h":-0.70},{"t":1984,"l":-1.10,"h":-0.68},{"t":1986,"l":-1.08,"h":-0.65},{"t":1988,"l":-1.05,"h":-0.60},{"t":1990,"l":-1.03,"h":-0.53},{"t":1992,"l":-1.50,"h":-0.55},{"t":1994,"l":-0.98,"h":-0.48},{"t":1996,"l":-0.90,"h":-0.40},{"t":1998,"l":-0.85,"h":-0.32},{"t":2000,"l":-0.78,"h":-0.29},{"t":2002,"l":-0.72,"h":-0.22},{"t":2004,"l":-0.64,"h":-0.14},{"t":2005,"l":-0.60,"h":-0.18}]
},
"concat":[
{"width":236,"height":219,"layer":[
 {"data":{"name":"rA"},"mark":{"type":"area","fill":"#ff0000","strokeWidth":1},"encoding":{"x":{"field":"t","type":"quantitative","scale":{"domain":[1850,2015],"nice":false,"zero":false},"axis":{"values":[1860,1880,1900,1920,1940,1960,1980,2000],"tickCount":20,"labelExpr":"''+datum.value","labelOverlap":false,"title":"[A]\u00a0\u00a0\u00a0year"}},"y":{"field":"l","type":"quantitative","scale":{"domain":[-2.25,1],"nice":false,"zero":false},"axis":{"values":[-2,-1.5,-1,-0.5,0,0.5,1],"tickCount":20,"labelExpr":"''+datum.value","labelOverlap":false,"title":"Temp. Anom. (°C)"}},"y2":{"field":"h"},"stroke":{"datum":"GISS-E2-H p2 (5 sim)","type":"nominal","scale":{"domain":["GISS-E2-H p2 (5 sim)","HadCRUT.4.2"],"range":["#ff8080","#8080ff"]},"legend":{"title":null}}}},
 {"data":{"name":"had"},"mark":{"type":"rule","strokeWidth":1.2},"encoding":{"x":{"field":"t","type":"quantitative"},"y":{"field":"l","type":"quantitative"},"y2":{"field":"h"},"stroke":{"datum":"HadCRUT.4.2","type":"nominal"}}},
 {"data":{"name":"had"},"mark":{"type":"rule","color":"#0000ff","strokeWidth":1.2},"encoding":{"x":{"field":"t","type":"quantitative"},"y":{"field":"cl","type":"quantitative"},"y2":{"field":"ch"}}},
 {"data":{"name":"sm"},"mark":{"type":"line","color":"#000","strokeWidth":1,"interpolate":"basis"},"encoding":{"x":{"field":"t","type":"quantitative"},"y":{"field":"a","type":"quantitative"}}},
 {"data":{"name":"sm"},"mark":{"type":"line","color":"#000","strokeWidth":1,"interpolate":"basis"},"encoding":{"x":{"field":"t","type":"quantitative"},"y":{"field":"b","type":"quantitative"}}}
]},
{"width":236,"height":219,"layer":[
 {"data":{"name":"rB"},"mark":{"type":"area","fill":"#ff0000","strokeWidth":1},"encoding":{"x":{"field":"t","type":"quantitative","scale":{"domain":[1850,2015],"nice":false,"zero":false},"axis":{"values":[1860,1880,1900,1920,1940,1960,1980,2000],"tickCount":20,"labelExpr":"''+datum.value","labelOverlap":false,"title":"[B]\u00a0\u00a0\u00a0year"}},"y":{"field":"l","type":"quantitative","scale":{"domain":[-2.25,1],"nice":false,"zero":false},"axis":{"values":[-2,-1.5,-1,-0.5,0,0.5,1],"tickCount":20,"labelExpr":"''+datum.value","labelOverlap":false,"title":"Temp. Anom. (°C)"}},"y2":{"field":"h"},"stroke":{"datum":"GISS-E2-H p3 (6 sim)","type":"nominal","scale":{"domain":["GISS-E2-H p3 (6 sim)","HadCRUT.4.2"],"range":["#ff8080","#8080ff"]},"legend":{"title":null}}}},
 {"data":{"name":"had"},"mark":{"type":"rule","strokeWidth":1.2},"encoding":{"x":{"field":"t","type":"quantitative"},"y":{"field":"l","type":"quantitative"},"y2":{"field":"h"},"stroke":{"datum":"HadCRUT.4.2","type":"nominal"}}},
 {"data":{"name":"had"},"mark":{"type":"rule","color":"#0000ff","strokeWidth":1.2},"encoding":{"x":{"field":"t","type":"quantitative"},"y":{"field":"cl","type":"quantitative"},"y2":{"field":"ch"}}},
 {"data":{"name":"sm"},"mark":{"type":"line","color":"#000","strokeWidth":1,"interpolate":"basis"},"encoding":{"x":{"field":"t","type":"quantitative"},"y":{"field":"a","type":"quantitative"}}},
 {"data":{"name":"sm"},"mark":{"type":"line","color":"#000","strokeWidth":1,"interpolate":"basis"},"encoding":{"x":{"field":"t","type":"quantitative"},"y":{"field":"b","type":"quantitative"}}}
]},
{"width":236,"height":219,"layer":[
 {"data":{"name":"rC"},"mark":{"type":"area","fill":"#ff2020","strokeWidth":1},"encoding":{"x":{"field":"t","type":"quantitative","scale":{"domain":[1850,2015],"nice":false,"zero":false},"axis":{"values":[1860,1880,1900,1920,1940,1960,1980,2000],"tickCount":20,"labelExpr":"''+datum.value","labelOverlap":false,"title":"[C]\u00a0\u00a0\u00a0year"}},"y":{"field":"l","type":"quantitative","scale":{"domain":[-2.25,1],"nice":false,"zero":false},"axis":{"values":[-2,-1.5,-1,-0.5,0,0.5,1],"tickCount":20,"labelExpr":"''+datum.value","labelOverlap":false,"title":"Temp. Anom. (°C)"}},"y2":{"field":"h"},"stroke":{"datum":"GISS-E2-H-CC p1 (1 sim)","type":"nominal","scale":{"domain":["GISS-E2-H-CC p1 (1 sim)","HadCRUT.4.2"],"range":["#ff8080","#8080ff"]},"legend":{"title":null}}}},
 {"data":{"name":"had"},"mark":{"type":"rule","strokeWidth":1.2},"encoding":{"x":{"field":"t","type":"quantitative"},"y":{"field":"l","type":"quantitative"},"y2":{"field":"h"},"stroke":{"datum":"HadCRUT.4.2","type":"nominal"}}},
 {"data":{"name":"had"},"mark":{"type":"rule","color":"#0000ff","strokeWidth":1.2},"encoding":{"x":{"field":"t","type":"quantitative"},"y":{"field":"cl","type":"quantitative"},"y2":{"field":"ch"}}},
 {"data":{"name":"sm"},"mark":{"type":"line","color":"#000","strokeWidth":1,"interpolate":"basis"},"encoding":{"x":{"field":"t","type":"quantitative"},"y":{"field":"a","type":"quantitative"}}},
 {"data":{"name":"sm"},"mark":{"type":"line","color":"#000","strokeWidth":1,"interpolate":"basis"},"encoding":{"x":{"field":"t","type":"quantitative"},"y":{"field":"b","type":"quantitative"}}}
]},
{"width":236,"height":219,"layer":[
 {"data":{"name":"rD"},"mark":{"type":"area","fill":"#ff0000","strokeWidth":1},"encoding":{"x":{"field":"t","type":"quantitative","scale":{"domain":[1850,2015],"nice":false,"zero":false},"axis":{"values":[1860,1880,1900,1920,1940,1960,1980,2000],"tickCount":20,"labelExpr":"''+datum.value","labelOverlap":false,"title":"[D]\u00a0\u00a0\u00a0year"}},"y":{"field":"l","type":"quantitative","scale":{"domain":[-2.25,1],"nice":false,"zero":false},"axis":{"values":[-2,-1.5,-1,-0.5,0,0.5,1],"tickCount":20,"labelExpr":"''+datum.value","labelOverlap":false,"title":"Temp. Anom. (°C)"}},"y2":{"field":"h"},"stroke":{"datum":"GISS-E2-R p1 (6 sim)","type":"nominal","scale":{"domain":["GISS-E2-R p1 (6 sim)","HadCRUT.4.2"],"range":["#ff8080","#8080ff"]},"legend":{"title":null}}}},
 {"data":{"name":"had"},"mark":{"type":"rule","strokeWidth":1.2},"encoding":{"x":{"field":"t","type":"quantitative"},"y":{"field":"l","type":"quantitative"},"y2":{"field":"h"},"stroke":{"datum":"HadCRUT.4.2","type":"nominal"}}},
 {"data":{"name":"had"},"mark":{"type":"rule","color":"#0000ff","strokeWidth":1.2},"encoding":{"x":{"field":"t","type":"quantitative"},"y":{"field":"cl","type":"quantitative"},"y2":{"field":"ch"}}},
 {"data":{"name":"sm"},"mark":{"type":"line","color":"#000","strokeWidth":1,"interpolate":"basis"},"encoding":{"x":{"field":"t","type":"quantitative"},"y":{"field":"a","type":"quantitative"}}},
 {"data":{"name":"sm"},"mark":{"type":"line","color":"#000","strokeWidth":1,"interpolate":"basis"},"encoding":{"x":{"field":"t","type":"quantitative"},"y":{"field":"b","type":"quantitative"}}}
]},
{"width":236,"height":219,"layer":[
 {"data":{"name":"rE"},"mark":{"type":"area","fill":"#ff0000","strokeWidth":1},"encoding":{"x":{"field":"t","type":"quantitative","scale":{"domain":[1850,2015],"nice":false,"zero":false},"axis":{"values":[1860,1880,1900,1920,1940,1960,1980,2000],"tickCount":20,"labelExpr":"''+datum.value","labelOverlap":false,"title":"[E]\u00a0\u00a0\u00a0year"}},"y":{"field":"l","type":"quantitative","scale":{"domain":[-2.25,1],"nice":false,"zero":false},"axis":{"values":[-2,-1.5,-1,-0.5,0,0.5,1],"tickCount":20,"labelExpr":"''+datum.value","labelOverlap":false,"title":"Temp. Anom. (°C)"}},"y2":{"field":"h"},"stroke":{"datum":"GISS-E2-R p2 (6 sim)","type":"nominal","scale":{"domain":["GISS-E2-R p2 (6 sim)","HadCRUT.4.2"],"range":["#ff8080","#8080ff"]},"legend":{"title":null}}}},
 {"data":{"name":"had"},"mark":{"type":"rule","strokeWidth":1.2},"encoding":{"x":{"field":"t","type":"quantitative"},"y":{"field":"l","type":"quantitative"},"y2":{"field":"h"},"stroke":{"datum":"HadCRUT.4.2","type":"nominal"}}},
 {"data":{"name":"had"},"mark":{"type":"rule","color":"#0000ff","strokeWidth":1.2},"encoding":{"x":{"field":"t","type":"quantitative"},"y":{"field":"cl","type":"quantitative"},"y2":{"field":"ch"}}},
 {"data":{"name":"sm"},"mark":{"type":"line","color":"#000","strokeWidth":1,"interpolate":"basis"},"encoding":{"x":{"field":"t","type":"quantitative"},"y":{"field":"a","type":"quantitative"}}},
 {"data":{"name":"sm"},"mark":{"type":"line","color":"#000","strokeWidth":1,"interpolate":"basis"},"encoding":{"x":{"field":"t","type":"quantitative"},"y":{"field":"b","type":"quantitative"}}}
]},
{"width":236,"height":219,"layer":[
 {"data":{"name":"rF"},"mark":{"type":"area","fill":"#ff0000","strokeWidth":1},"encoding":{"x":{"field":"t","type":"quantitative","scale":{"domain":[1850,2015],"nice":false,"zero":false},"axis":{"values":[1860,1880,1900,1920,1940,1960,1980,2000],"tickCount":20,"labelExpr":"''+datum.value","labelOverlap":false,"title":"[F]\u00a0\u00a0\u00a0year"}},"y":{"field":"l","type":"quantitative","scale":{"domain":[-2.25,1],"nice":false,"zero":false},"axis":{"values":[-2,-1.5,-1,-0.5,0,0.5,1],"tickCount":20,"labelExpr":"''+datum.value","labelOverlap":false,"title":"Temp. Anom. (°C)"}},"y2":{"field":"h"},"stroke":{"datum":"GISS-E2-R p3 (6 sim)","type":"nominal","scale":{"domain":["GISS-E2-R p3 (6 sim)","HadCRUT.4.2"],"range":["#ff8080","#8080ff"]},"legend":{"title":null}}}},
 {"data":{"name":"had"},"mark":{"type":"rule","strokeWidth":1.2},"encoding":{"x":{"field":"t","type":"quantitative"},"y":{"field":"l","type":"quantitative"},"y2":{"field":"h"},"stroke":{"datum":"HadCRUT.4.2","type":"nominal"}}},
 {"data":{"name":"had"},"mark":{"type":"rule","color":"#0000ff","strokeWidth":1.2},"encoding":{"x":{"field":"t","type":"quantitative"},"y":{"field":"cl","type":"quantitative"},"y2":{"field":"ch"}}},
 {"data":{"name":"sm"},"mark":{"type":"line","color":"#000","strokeWidth":1,"interpolate":"basis"},"encoding":{"x":{"field":"t","type":"quantitative"},"y":{"field":"a","type":"quantitative"}}},
 {"data":{"name":"sm"},"mark":{"type":"line","color":"#000","strokeWidth":1,"interpolate":"basis"},"encoding":{"x":{"field":"t","type":"quantitative"},"y":{"field":"b","type":"quantitative"}}}
]}
]
}
